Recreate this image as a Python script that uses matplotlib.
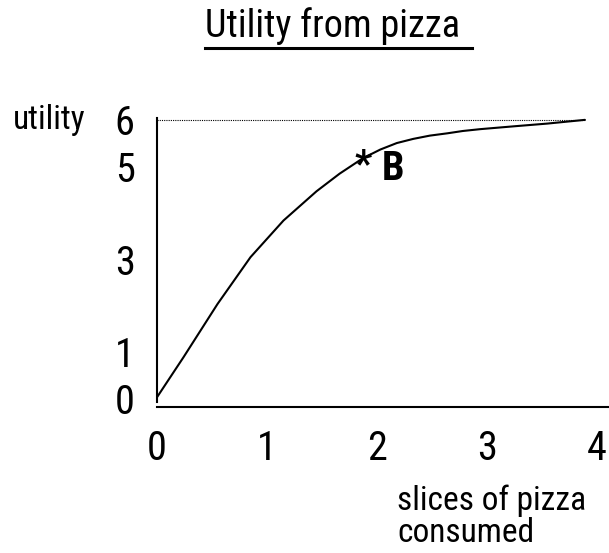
import matplotlib
matplotlib.use("Agg")
import matplotlib.pyplot as plt
from matplotlib import font_manager
from matplotlib.font_manager import FontProperties
from matplotlib.lines import Line2D

# Utility curve for slices of pizza consumed
slices = [0.0, 0.24, 0.55, 0.85, 1.15, 1.45, 1.66, 1.87, 2.03, 2.18, 2.33,
          2.48, 2.64, 2.78, 2.94, 3.24, 3.55, 3.89]
utility = [0.02, 0.88, 2.03, 3.04, 3.83, 4.46, 4.84, 5.17, 5.36, 5.50, 5.59,
           5.66, 5.71, 5.76, 5.80, 5.86, 5.92, 6.0]

x_ticks = [0, 1, 2, 3, 4]
y_ticks = [0, 1, 3, 5, 6]
max_utility = 6.0
point_b = (1.87, 5.17)


def narrow_fonts():
    """Find a regular and a bold narrow sans-serif face, if one is installed."""
    preferred = ["Liberation Sans Narrow", "Arial Narrow", "Roboto Condensed",
                 "Open Sans Condensed", "Noto Sans Condensed", "Noto Sans",
                 "DejaVu Sans"]
    regular, bold = {}, {}
    for f in font_manager.fontManager.ttflist:
        narrow = ("Narrow" in f.name or "Condensed" in f.name
                  or f.stretch in ("condensed", "semi-condensed"))
        if not narrow or f.style != "normal":
            continue
        w = f.weight if isinstance(f.weight, int) else (700 if "bold" in str(f.weight) else 400)
        if w == 400:
            regular.setdefault(f.name, f.fname)
        elif w == 700:
            bold.setdefault(f.name, f.fname)
    for name in preferred:
        if name in regular:
            return FontProperties(fname=regular[name]), FontProperties(fname=bold.get(name, regular[name])), True
    return FontProperties(family="Liberation Sans"), FontProperties(family="Liberation Sans", weight="bold"), False


font_reg, font_bold, is_narrow = narrow_fonts()
if is_narrow:
    tick_size, label_size, title_size, b_size = 29, 24, 27.5, 29
else:
    tick_size, label_size, title_size, b_size = 27, 22, 24, 29

fig = plt.figure(figsize=(6.09, 5.53), dpi=100)
ax = fig.add_axes([157 / 609, (553 - 407) / 553, (609 - 157) / 609, 289 / 553])
ax.set_xlim(0, 4.109)
ax.set_ylim(-0.19, 6.04)

ax.plot(slices, utility, color="black", lw=1.5, solid_capstyle="round",
        solid_joinstyle="round")

# dotted ceiling at the maximum utility
ax.plot([0, slices[-1]], [max_utility, max_utility], color="black", lw=0.8,
        linestyle=(0, (1, 1)))

for s in ["top", "right"]:
    ax.spines[s].set_visible(False)
ax.spines["left"].set_linewidth(1.5)
ax.spines["bottom"].set_linewidth(1.5)
ax.spines["left"].set_bounds(-0.09, 6.04)

ax.set_xticks(x_ticks)
ax.set_yticks(y_ticks)
ax.set_xticklabels([str(v) for v in x_ticks])
ax.set_yticklabels([str(v) for v in y_ticks])
ax.tick_params(length=0, pad=16)
for lab in ax.get_xticklabels() + ax.get_yticklabels():
    lab.set_fontproperties(font_reg)
    lab.set_fontsize(tick_size)

# point B
ax.annotate("*", xy=point_b, xytext=(0.5, -5), textcoords="offset points",
            fontproperties=font_bold, fontsize=27, ha="center", va="center")
ax.annotate("B", xy=point_b, xytext=(13.5, -7.5), textcoords="offset points",
            fontproperties=font_bold, fontsize=b_size, ha="left", va="center")

fig.text(13 / 609, 1 - 120 / 553, "utility", fontproperties=font_reg,
         fontsize=label_size, ha="left", va="center")
fig.text(397 / 609, 1 - 510 / 553, "slices of pizza", fontproperties=font_reg,
         fontsize=label_size, ha="left", va="baseline")
fig.text(397 / 609, 1 - 542 / 553, "consumed", fontproperties=font_reg,
         fontsize=label_size, ha="left", va="baseline")

fig.text(205 / 609, 1 - 37 / 553, "Utility from pizza", fontproperties=font_reg,
         fontsize=title_size, ha="left", va="baseline")
fig.add_artist(Line2D([205 / 609, 472 / 609], [1 - 48 / 553, 1 - 48 / 553],
                      color="black", lw=2.2, transform=fig.transFigure))

fig.savefig("out.png", dpi=100)
